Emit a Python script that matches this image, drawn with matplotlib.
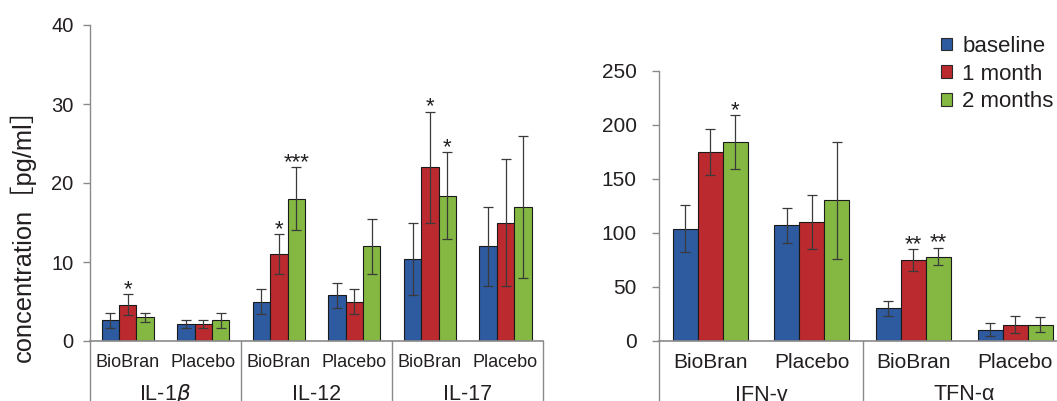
import matplotlib
matplotlib.use("Agg")
import matplotlib.pyplot as plt
import matplotlib.transforms as mtransforms
from matplotlib.patches import Patch
import numpy as np

plt.rcParams['font.family'] = ['Liberation Sans', 'DejaVu Sans']

# ---------------- data ----------------
series_names = ["baseline", "1 month", "2 months"]
colors = ["#2E5AA0", "#BA2A2F", "#84B842"]

left_groups = ["IL-1$\\mathit{\\beta}$", "IL-12", "IL-17"]
left_subcats = ["BioBran", "Placebo", "BioBran", "Placebo", "BioBran", "Placebo"]
left_baseline = [2.6, 2.1, 5.0, 5.8, 10.4, 12.0]
left_baseline_err = [1.0, 0.5, 1.6, 1.6, 4.6, 5.0]
left_1month = [4.6, 2.1, 11.0, 5.0, 22.0, 15.0]
left_1month_err = [1.3, 0.5, 2.5, 1.6, 7.0, 8.0]
left_2months = [3.0, 2.6, 18.0, 12.0, 18.4, 17.0]
left_2months_err = [0.6, 1.0, 4.0, 3.5, 5.5, 9.0]
left_stars = {(1, 0): "*", (1, 2): "*", (2, 2): "***", (1, 4): "*", (2, 4): "*"}
left_yticks = [0, 10, 20, 30, 40]

right_groups = ["IFN-γ", "TFN-α"]
right_subcats = ["BioBran", "Placebo", "BioBran", "Placebo"]
right_baseline = [104, 107, 30, 10]
right_baseline_err = [22, 16, 7, 6]
right_1month = [175, 110, 75, 15]
right_1month_err = [21, 25, 10, 8]
right_2months = [184, 130, 78, 15]
right_2months_err = [25, 54, 8, 7]
right_stars = {(2, 0): "*", (1, 2): "**", (2, 2): "**"}
right_yticks = [0, 50, 100, 150, 200, 250]

ylabel = "concentration［pg/ml］"

# ---------------- figure ----------------
W, H = 1057, 401
fig = plt.figure(figsize=(W / 100, H / 100), dpi=100)

TXT = "#231F20"
GRAY = "#8a8a8a"
ERRC = "#3a3a3a"


def px(xp, yp):
    return xp / W, 1 - yp / H


def draw_panel(ax, means, errs, stars, subcats, groups, yticks, ylim, width,
               tick_fs, cat_fs, cat_base_px, grp_fs, star_fs,
               capsize, tick_pad):
    n = len(subcats)
    x = np.arange(n) + 0.5
    for k, (m, e) in enumerate(zip(means, errs)):
        xs = x + (k - 1) * width
        ax.bar(xs, m, width=width, color=colors[k], edgecolor="#1a1a1a",
               linewidth=0.8, zorder=2)
        ax.errorbar(xs, m, yerr=e, fmt="none", ecolor=ERRC, elinewidth=0.9,
                    capsize=capsize, capthick=0.9, zorder=3)
    for (k, i), s in stars.items():
        top = means[k][i] + errs[k][i]
        ax.annotate(s, xy=(x[i] + (k - 1) * width, top), xytext=(0, -0.5),
                    textcoords="offset points", ha="center", va="baseline",
                    fontsize=star_fs, color=TXT, zorder=4)
    ax.set_xlim(0, n)
    ax.set_ylim(*ylim)
    ax.set_xticks([])
    ax.set_yticks(yticks)
    ax.tick_params(axis="y", direction="out", length=4.8, width=1.0, color=GRAY,
                   labelsize=tick_fs, labelcolor=TXT, pad=tick_pad)
    for sp in ["top", "right"]:
        ax.spines[sp].set_visible(False)
    ax.spines["left"].set_color(GRAY)
    ax.spines["left"].set_linewidth(1.0)
    ax.spines["bottom"].set_color(GRAY)
    ax.spines["bottom"].set_linewidth(1.2)
    ax.spines["bottom"].set_zorder(5)
    tr = mtransforms.blended_transform_factory(ax.transData, fig.transFigure)
    for i, c in enumerate(subcats):
        ax.text(x[i], 1 - cat_base_px / H, c, transform=tr, ha="center",
                va="baseline", fontsize=cat_fs, color=TXT)
    ng = len(groups)
    for g, name in enumerate(groups):
        ax.text(2 * g + 1, 1 - 400.5 / H, name, transform=tr, ha="center",
                va="baseline", fontsize=grp_fs, color=TXT)
    trx = mtransforms.blended_transform_factory(ax.transData, ax.transAxes)
    for g in range(ng + 1):
        ax.plot([2 * g, 2 * g], [0, -0.5], transform=trx, color=GRAY, lw=1.0,
                clip_on=False, zorder=1)


# left panel
l0, b0 = px(90, 341)
r0, t0 = px(543.3, 25)
axL = fig.add_axes([l0, b0, r0 - l0, t0 - b0])
draw_panel(axL,
           [left_baseline, left_1month, left_2months],
           [left_baseline_err, left_1month_err, left_2months_err],
           left_stars, left_subcats, left_groups, left_yticks, (0, 40), 0.23,
           tick_fs=14.5, cat_fs=13, cat_base_px=367, grp_fs=15.5, star_fs=16,
           capsize=3.3, tick_pad=7)

# right panel
l1, b1 = px(659.3, 340.7)
r1, t1 = px(1066, 71)
axR = fig.add_axes([l1, b1, r1 - l1, t1 - b1])
draw_panel(axR,
           [right_baseline, right_1month, right_2months],
           [right_baseline_err, right_1month_err, right_2months_err],
           right_stars, right_subcats, right_groups, right_yticks, (0, 250), 0.246,
           tick_fs=15, cat_fs=15, cat_base_px=368, grp_fs=15.5, star_fs=16,
           capsize=3.6, tick_pad=11.5)

# y label
fig.text(23 / W, 1 - 229 / H, ylabel, rotation=90, ha="center", va="center",
         fontsize=18.3, color=TXT, family=["Liberation Sans", "Noto Sans CJK JP"])

# legend
handles = [Patch(facecolor=c, edgecolor="#2a2a2a", linewidth=0.8) for c in colors]
fig.legend(handles, series_names, loc="upper left",
           bbox_to_anchor=px(941, 36), frameon=False, fontsize=16,
           handlelength=0.5, handleheight=0.5, handletextpad=0.45,
           labelspacing=0.3, borderpad=0, borderaxespad=0, labelcolor=TXT)

fig.savefig("out.png", dpi=100)
